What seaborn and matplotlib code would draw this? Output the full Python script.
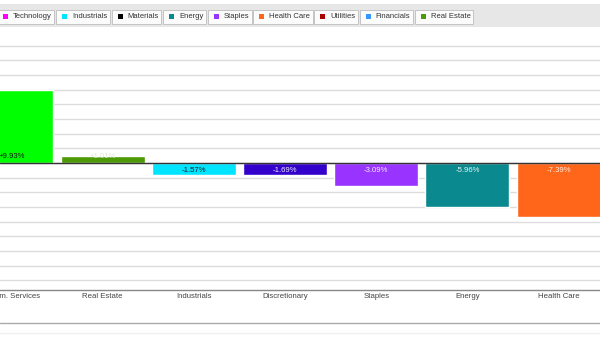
import matplotlib
matplotlib.use("Agg")
import matplotlib.pyplot as plt
import seaborn as sns
import pandas as pd
from matplotlib.patches import Rectangle
from matplotlib.lines import Line2D

# ---- data ----
sectors = ["Comm. Services", "Real Estate", "Industrials", "Discretionary",
           "Staples", "Energy", "Health Care"]
changes = [9.93, 1.01, -1.57, -1.69, -3.09, -5.96, -7.39]
bar_colors = ["#00FF00", "#4E9A06", "#00E5FF", "#3300CC",
              "#9933FF", "#0A8A8F", "#FF6619"]
label_colors = ["#1a1a1a", "#dfe9cf", "#1a1a1a", "#ececff",
                "#f3eaff", "#e8f4f4", "#fff0e6"]

legend_labels = ["Technology", "Industrials", "Materials", "Energy", "Staples",
                 "Health Care", "Utilities", "Financials", "Real Estate"]
legend_colors = ["#FF00FF", "#00E5FF", "#000000", "#0A8A8F", "#9933FF",
                 "#FF6619", "#AA0000", "#3399FF", "#4E9A06"]
grid_ticks = list(range(-16, 17, 2))

# ---- style ----
sns.set_theme(style="white")
plt.rcParams["font.family"] = ["Liberation Sans", "DejaVu Sans"]

W, H = 600, 338
fig = plt.figure(figsize=(6, 3.38), dpi=100)
fig.patch.set_facecolor("white")


def fx(px):
    return px / W


def fy(py):
    return 1 - py / H


zero_px = 163.0
per_pct = 7.33
top_px = 31.0
bot_px = 290.3
first_center_px = 11.4
step_px = 91.2

ax = fig.add_axes([0, fy(bot_px), 1, (bot_px - top_px) / H])
df = pd.DataFrame({"sector": sectors, "change": changes})
sns.barplot(data=df, x="sector", y="change", hue="sector",
            palette=dict(zip(sectors, bar_colors)), width=0.92,
            dodge=False, legend=False, saturation=1, ax=ax, zorder=2)

ax.set_xlim(-first_center_px / step_px, (W - first_center_px) / step_px)
ax.set_ylim(-(bot_px - zero_px) / per_pct, (zero_px - top_px) / per_pct)
ax.set_yticks(grid_ticks)
ax.yaxis.grid(True, color="#dcdcdc", lw=1)
ax.set_axisbelow(True)
ax.tick_params(axis="y", length=0, labelleft=False)
ax.tick_params(axis="x", length=0, pad=2.2, labelsize=5.6, labelcolor="#444444")
ax.set_xlabel("")
ax.set_ylabel("")
for s in ["top", "left", "right"]:
    ax.spines[s].set_visible(False)
ax.spines["bottom"].set_color("#888888")
ax.spines["bottom"].set_linewidth(1)
ax.axhline(0, color="#333333", lw=1, zorder=3)

for i, (v, c) in enumerate(zip(changes, label_colors)):
    ax.annotate(f"{v:+.2f}%", (i, 0), xytext=(0, 6.0 if v > 0 else -7.3),
                textcoords="offset pixels", ha="center", va="center",
                fontsize=5.6, color=c, zorder=4)

# ---- legend band (button style) ----
fig.patches.append(Rectangle((0, fy(27)), 1, 23 / H, transform=fig.transFigure,
                             facecolor="#e7e7e7", edgecolor="none", zorder=0))
renderer = fig.canvas.get_renderer()
x = -3.0
box_top, box_bot = 9.7, 23.5
for lab, col in zip(legend_labels, legend_colors):
    t = fig.text(fx(x + 16), fy(16.6), lab, fontsize=5.5, color="#333333",
                 va="center", ha="left", zorder=5)
    tw = t.get_window_extent(renderer).width
    right = x + 16 + tw + 2.5
    fig.patches.append(Rectangle((fx(x), fy(box_bot)), (right - x) / W,
                                 (box_bot - box_top) / H, transform=fig.transFigure,
                                 facecolor="#fbfbfb", edgecolor="#c4c4c4",
                                 lw=0.7, zorder=1))
    fig.patches.append(Rectangle((fx(x + 6), fy(19.2)), 5 / W, 5 / H,
                                 transform=fig.transFigure, facecolor=col,
                                 edgecolor="none", zorder=2))
    x = right + 1.7

fig.add_artist(Line2D([0, 1], [fy(322.7)] * 2, color="#aaaaaa", lw=1))
fig.add_artist(Line2D([0, 1], [fy(333)] * 2, color="#f0f0f0", lw=1))

fig.savefig("out.png", dpi=100, facecolor="white")
